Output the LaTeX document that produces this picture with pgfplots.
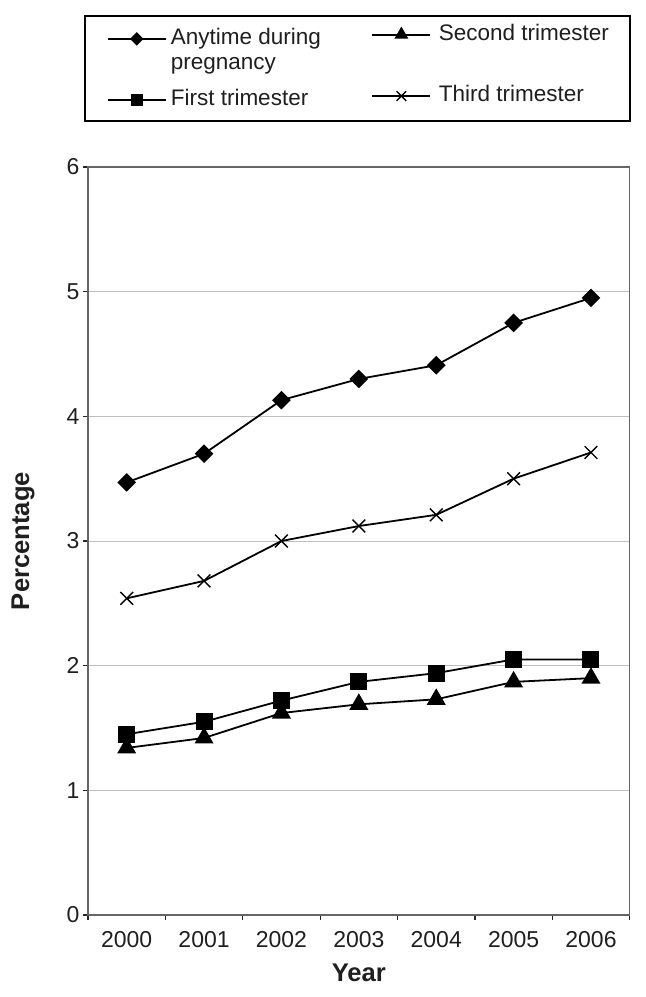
\documentclass[border=0pt]{standalone}
\usepackage{pgfplots}
\pgfplotsset{compat=1.18}
\usepackage{fontspec}
\setmainfont{Liberation Sans}
\pgfplotsset{
  legA/.style={legend image code/.code={\draw[mark repeat=2,mark phase=2,##1,every mark/.append style={scale=0.68}] plot coordinates {(0pt,2.7pt)(14.5pt,2.7pt)(29pt,2.7pt)};}},
  legB/.style={legend image code/.code={\draw[mark repeat=2,mark phase=2,##1,every mark/.append style={scale=0.68}] plot coordinates {(0pt,4.8pt)(14.5pt,4.8pt)(29pt,4.8pt)};}},
  legC/.style={legend image code/.code={\draw[mark repeat=2,mark phase=2,##1,every mark/.append style={scale=0.75}] plot coordinates {(0pt,4.8pt)(14.5pt,4.8pt)(29pt,4.8pt)};}},
}
\begin{document}
\begin{tikzpicture}
\useasboundingbox (-44pt,-41pt) rectangle (279pt,457.5pt);
\begin{axis}[
  at={(0,0)}, anchor=south west,
  scale only axis, width=270.85pt, height=374pt,
  xmin=-0.5, xmax=6.5, ymin=0, ymax=6,
  xtick={-0.5,0.5,...,6.5}, xticklabels={},
  extra x ticks={0,1,2,3,4,5,6},
  extra x tick labels={2000,2001,2002,2003,2004,2005,2006},
  extra x tick style={major tick length=0pt, xticklabel style={yshift=-4.5pt}},
  ytick={0,1,2,3,4,5,6},
  yticklabel style={xshift=1.8pt},
  tick align=outside, tick pos=left,
  major tick length=2.5pt,
  tick style={black!85, line width=0.6pt},
  ymajorgrids, grid style={gray!50, line width=0.5pt},
  axis line style={gray!80!black, line width=0.8pt},
  /pgf/number format/assume math mode=true,
  tick label style={font=\fontsize{11.5}{13}\selectfont, text=black!88},
  label style={font=\fontsize{12.8}{14}\selectfont\bfseries, text=black!88},
  xlabel={Year}, ylabel={Percentage},
  x label style={at={(axis description cs:0.5,-0.0775)}, anchor=center},
  y label style={at={(axis description cs:-0.12,0.5)}, anchor=center},
  legend columns=2,
  legend style={at={(-0.0074,1.2028)}, anchor=north west, draw=black, line width=0.8pt,
    font=\fontsize{11.25}{12.85}\selectfont, text=black!88,
    inner xsep=11pt, inner ysep=3.8pt, row sep=5.3pt,
    nodes={inner sep=0pt, text depth=},
    cells={anchor=base west},
    /tikz/column 1/.style={column sep=2.1pt},
    /tikz/column 2/.style={column sep=4.35pt},
    /tikz/column 3/.style={column sep=3.8pt}},
  every axis plot/.append style={black, line width=0.9pt, mark options={solid, fill=black}},
]
\addplot[legA, mark=square*, mark size=2.85pt, mark options={rotate=45}] coordinates {
  (0,3.47) (1,3.70) (2,4.13) (3,4.30) (4,4.41) (5,4.75) (6,4.95)};
\addlegendentry{\parbox[t]{96pt}{Anytime during\\pregnancy}}
\addplot[legB, mark=triangle*, mark size=4.6pt] coordinates {
  (0,1.34) (1,1.42) (2,1.62) (3,1.69) (4,1.73) (5,1.87) (6,1.90)};
\addlegendentry{\raisebox{2.1pt}{\makebox[84.7pt][l]{Second trimester}}}
\addplot[legA, mark=square*, mark size=3.8pt] coordinates {
  (0,1.45) (1,1.55) (2,1.72) (3,1.87) (4,1.94) (5,2.05) (6,2.05)};
\addlegendentry{\makebox[96pt][l]{First trimester\rule[-3.95pt]{0pt}{3.95pt}}}
\addplot[legC, mark=x, mark size=4.5pt, mark options={line width=0.7pt}] coordinates {
  (0,2.54) (1,2.68) (2,3.00) (3,3.12) (4,3.21) (5,3.50) (6,3.71)};
\addlegendentry{\raisebox{2.1pt}{\makebox[84.7pt][l]{Third trimester}}}
\end{axis}
\end{tikzpicture}
\end{document}
